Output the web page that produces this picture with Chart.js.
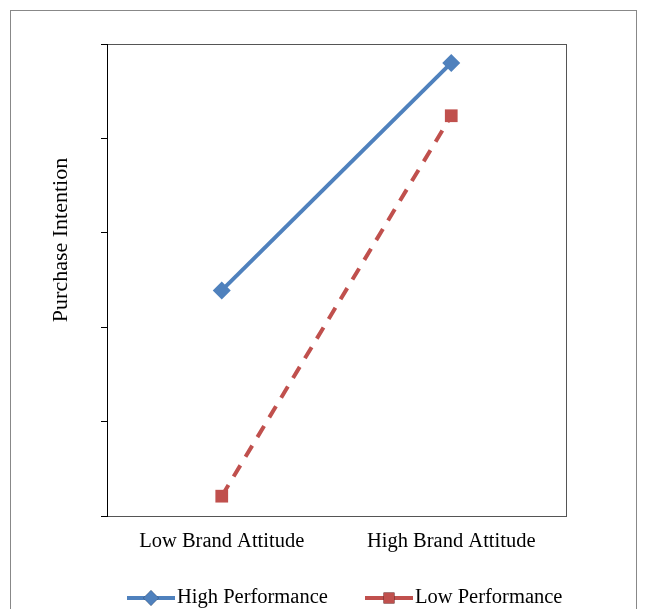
<!DOCTYPE html>
<html>
<head>
<meta charset="utf-8">
<script src="https://cdn.jsdelivr.net/npm/chart.js@4"></script>
<style>
  html, body { margin: 0; padding: 0; background: #fff; overflow: hidden; }
  #wrap { position: relative; width: 649px; height: 609px; }
  #frame { position: absolute; left: 10px; top: 10px; width: 627px; height: 620px; border: 1px solid #888; box-sizing: border-box; }
  canvas { position: absolute; left: 0; top: 0; }
</style>
</head>
<body>
<div id="wrap">
  <div id="frame"></div>
  <canvas id="chart" width="649" height="609"></canvas>
</div>
<script>
const categories = ['Low Brand Attitude', 'High Brand Attitude'];
const highPerformance = [2.39, 4.80];
const lowPerformance = [0.21, 4.24];
const yTitle = 'Purchase Intention';

const FONT = '"Liberation Serif", "Times New Roman", serif';

// box round the plot area, y title and legend at bottom
const extras = {
    id: 'extras',
    afterDraw(chart) {
        const c = chart.ctx;
        const a = chart.chartArea;
        c.save();
        c.strokeStyle = '#555';
        c.lineWidth = 1;
        c.strokeRect(a.left + 0.5, a.top + 0.5, a.right - a.left, a.bottom - a.top);
        c.strokeStyle = '#000';
        c.beginPath();
        c.moveTo(a.left + 0.5, a.top);
        c.lineTo(a.left + 0.5, a.bottom + 1);
        c.stroke();

        c.fillStyle = '#000';
        c.font = '22px ' + FONT;
        c.textAlign = 'center';
        c.textBaseline = 'middle';
        c.translate(61, 240);
        c.rotate(-Math.PI / 2);
        c.fillText(yTitle, 0, 0);
        c.restore();

        // legend
        const items = [
            { ds: chart.data.datasets[0], x: 127 },
            { ds: chart.data.datasets[1], x: 365 }
        ];
        const ly = 598;
        c.save();
        items.forEach(it => {
            c.strokeStyle = it.ds.borderColor;
            c.lineWidth = 4;
            c.setLineDash([]);
            c.beginPath();
            c.moveTo(it.x, ly);
            c.lineTo(it.x + 48, ly);
            c.stroke();
            Chart.helpers.drawPoint(c, {
                pointStyle: it.ds.pointStyle,
                radius: it.ds.pointRadius * 0.85,
                borderWidth: 0
            }, it.x + 24, ly);
            c.fillStyle = it.ds.pointBackgroundColor;
            c.fill();
            c.fillStyle = '#000';
            c.font = '20.5px ' + FONT;
            c.textAlign = 'left';
            c.textBaseline = 'middle';
            c.fillText(it.ds.label, it.x + 50, ly);
        });
        c.restore();
    }
};

new Chart(document.getElementById('chart'), {
    type: 'line',
    data: {
        labels: categories,
        datasets: [{
            label: 'High Performance',
            data: highPerformance,
            borderColor: '#4F81BD',
            backgroundColor: '#4F81BD',
            pointBackgroundColor: '#4F81BD',
            pointBorderColor: '#4F81BD',
            borderWidth: 4,
            pointStyle: 'rectRot',
            pointRadius: 9,
            pointBorderWidth: 0
        }, {
            label: 'Low Performance',
            data: lowPerformance,
            borderColor: '#C0504D',
            backgroundColor: '#C0504D',
            pointBackgroundColor: '#C0504D',
            pointBorderColor: '#C0504D',
            borderWidth: 4,
            borderDash: [13, 10],
            pointStyle: 'rect',
            pointRadius: 9,
            pointBorderWidth: 0
        }]
    },
    options: {
        responsive: false,
        animation: false,
        layout: { padding: { left: 87, top: 44, right: 83, bottom: 53 } },
        plugins: {
            legend: { display: false },
            tooltip: { enabled: false }
        },
        scales: {
            x: {
                offset: true,
                grid: { display: false, drawTicks: false },
                border: { display: false },
                ticks: { color: '#000', font: { family: FONT, size: 20.5 }, padding: 13 },
                afterFit(s) { s.height = 40; }
            },
            y: {
                min: 0,
                max: 5,
                grid: { drawOnChartArea: false, drawTicks: true, tickLength: 6, color: '#000' },
                border: { display: false },
                ticks: { stepSize: 1, display: false },
                afterFit(s) { s.width = 20; }
            }
        }
    },
    plugins: [extras]
});
</script>
</body>
</html>
